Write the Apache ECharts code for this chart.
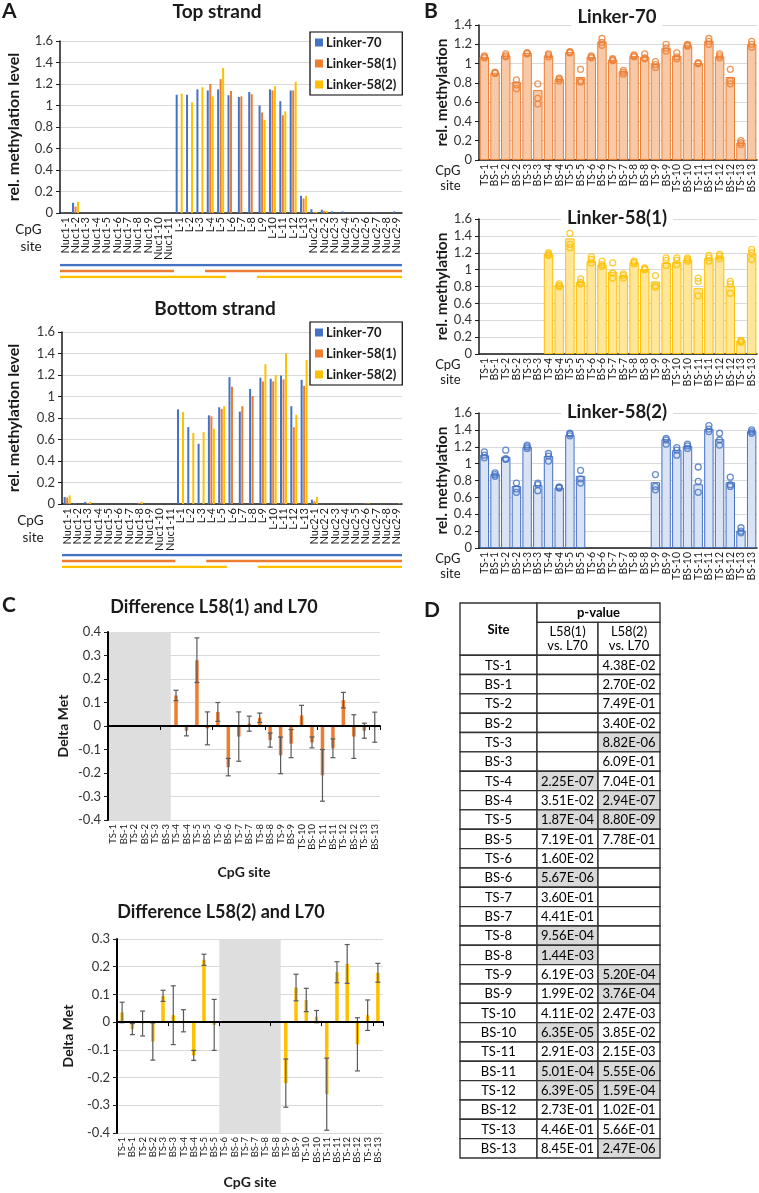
<!DOCTYPE html>
<html>
<head>
<meta charset="utf-8">
<script src="https://cdn.jsdelivr.net/npm/echarts@6/dist/echarts.min.js"></script>
<style>
  html, body { margin: 0; padding: 0; background: #fff; }
  #chart { width: 759px; height: 1193px; }
</style>
</head>
<body>
<div id="chart"></div>
<script>
// ---- data ----
const aSites = ['Nuc1-1', 'Nuc1-2', 'Nuc1-3', 'Nuc1-4', 'Nuc1-5', 'Nuc1-6', 'Nuc1-7', 'Nuc1-8', 'Nuc1-9', 'Nuc1-10', 'Nuc1-11',
  'L-1', 'L-2', 'L-3', 'L-4', 'L-5', 'L-6', 'L-7', 'L-8', 'L-9', 'L-10', 'L-11', 'L-12', 'L-13',
  'Nuc2-1', 'Nuc2-2', 'Nuc2-3', 'Nuc2-4', 'Nuc2-5', 'Nuc2-6', 'Nuc2-7', 'Nuc2-8', 'Nuc2-9']

const seriesNames = ['Linker-70', 'Linker-58(1)', 'Linker-58(2)']

// panel A, top strand
const topL70 = [0.01, 0.095, 0, 0, 0, 0, 0, 0, 0, 0, 0,
  1.10, 1.10, 1.15, 1.14, 1.15, 1.095, 1.08, 1.125, 1.00, 1.15, 1.04, 1.14, 0.16,
  0.035, 0.03, 0.015, 0.015, 0, 0, 0.01, 0, 0.015]
const topL58a = [0, 0.06, 0, 0, 0, 0, 0, 0, 0, 0, 0,
  null, null, null, 1.20, 1.245, 1.135, 1.085, 1.105, 0.935, 1.14, 0.91, 1.14, 0.135,
  0.01, 0.02, 0, 0, 0, 0, 0, 0, 0]
const topL58b = [0, 0.105, 0, 0, 0, 0, 0, 0, 0, 0, 0,
  1.11, 1.03, 1.17, 1.085, 1.35, null, null, null, 0.865, 1.18, 0.945, 1.22, 0.16,
  0.01, 0.02, 0, 0, 0, 0, 0, 0, 0]

// panel A, bottom strand
const botL70 = [0.065, 0.01, 0.02, 0, 0, 0, 0, 0.005, 0, 0, 0,
  0.88, 0.715, 0.56, 0.825, 0.90, 1.18, 0.86, 1.07, 1.175, 1.165, 1.195, 0.91, 1.155,
  0.04, 0, 0, 0, 0, 0.005, 0, 0, 0.005]
const botL58a = [0.06, 0, 0.01, 0, 0, 0, 0, 0.01, 0, 0, 0,
  null, null, null, 0.815, 0.885, 1.09, 0.91, 1.005, 1.14, 1.14, 1.16, 0.715, 1.10,
  0.025, 0, 0, 0, 0, 0.005, 0, 0, 0]
const botL58b = [0.08, 0, 0.02, 0, 0, 0, 0, 0.02, 0, 0, 0,
  0.855, 0.66, 0.67, 0.70, 0.91, null, null, null, 1.30, 1.20, 1.40, 0.83, 1.34,
  0.065, 0, 0, 0, 0, 0.005, 0, 0, 0.005]

// covered stretches of each construct (in category units)
const coverageL70 = [[0, 33]]
const coverageL58a = [[0, 11], [14, 33]]
const coverageL58b = [[0, 16], [19, 33]]

// panels B-D
const siteCats = ['TS-1', 'BS-1', 'TS-2', 'BS-2', 'TS-3', 'BS-3', 'TS-4', 'BS-4', 'TS-5', 'BS-5', 'TS-6', 'BS-6', 'TS-7',
  'BS-7', 'TS-8', 'BS-8', 'TS-9', 'BS-9', 'TS-10', 'BS-10', 'TS-11', 'BS-11', 'TS-12', 'BS-12', 'TS-13', 'BS-13']

const l70Mean = [1.07, 0.905, 1.085, 0.81, 1.11, 0.725, 1.085, 0.84, 1.12, 0.86, 1.07, 1.23, 1.04,
  0.92, 1.08, 1.07, 1.00, 1.16, 1.08, 1.19, 1.005, 1.235, 1.075, 0.86, 0.18, 1.20]
const l70Reps = [[1.06, 1.07, 1.08], [0.90, 0.90, 0.91], [1.07, 1.08, 1.10], [0.74, 0.78, 0.83], [1.10, 1.11, 1.11],
  [0.58, 0.64, 0.79], [1.07, 1.09, 1.10], [0.82, 0.84, 0.85], [1.11, 1.12, 1.12], [0.81, 0.82, 0.94],
  [1.06, 1.07, 1.08], [1.19, 1.22, 1.26], [1.03, 1.04, 1.05], [0.89, 0.91, 0.93], [1.07, 1.08, 1.09],
  [1.05, 1.06, 1.10], [0.96, 0.99, 1.02], [1.13, 1.16, 1.20], [1.05, 1.07, 1.11], [1.18, 1.19, 1.20],
  [1.00, 1.00, 1.01], [1.20, 1.23, 1.26], [1.06, 1.08, 1.10], [0.79, 0.82, 0.94], [0.16, 0.18, 0.20],
  [1.17, 1.20, 1.23]]

const l58aMean = [null, null, null, null, null, null, 1.19, 0.82, 1.37, 0.855, 1.105, 1.06, 0.975,
  0.93, 1.085, 1.005, 0.86, 1.08, 1.09, 1.12, 0.78, 1.14, 1.155, 0.81, 0.16, 1.19]
const l58aReps = [[], [], [], [], [], [],
  [1.17, 1.18, 1.20], [0.80, 0.81, 0.83], [1.26, 1.30, 1.43], [0.83, 0.85, 0.89],
  [1.08, 1.12, 1.15], [1.04, 1.06, 1.10], [0.90, 0.96, 1.08], [0.90, 0.93, 0.95], [1.07, 1.09, 1.10],
  [1.00, 1.01, 1.02], [0.79, 0.81, 0.93], [1.05, 1.11, 1.14], [1.06, 1.11, 1.14], [1.10, 1.12, 1.14],
  [0.69, 0.86, 0.90], [1.10, 1.14, 1.17], [1.13, 1.16, 1.18], [0.72, 0.83, 0.86], [0.14, 0.15, 0.16],
  [1.12, 1.20, 1.24]]

const l58bMean = [1.10, 0.875, 1.08, 0.735, 1.20, 0.745, 1.09, 0.715, 1.34, 0.855, null, null, null,
  null, null, null, 0.78, 1.29, 1.16, 1.21, 0.755, 1.41, 1.29, 0.78, 0.205, 1.385]
const l58bReps = [[1.07, 1.10, 1.14], [0.85, 0.87, 0.89], [1.05, 1.06, 1.16], [0.66, 0.70, 0.77], [1.18, 1.20, 1.22],
  [0.68, 0.75, 0.77], [1.03, 1.09, 1.12], [0.71, 0.72, 0.72], [1.33, 1.35, 1.36], [0.77, 0.82, 0.92],
  [], [], [], [], [], [],
  [0.69, 0.73, 0.87], [1.23, 1.28, 1.30], [1.10, 1.16, 1.19], [1.18, 1.21, 1.23],
  [0.66, 0.79, 0.96], [1.38, 1.41, 1.45], [1.22, 1.28, 1.36], [0.73, 0.75, 0.84], [0.18, 0.20, 0.24],
  [1.36, 1.38, 1.40]]

const delta58a = [null, null, null, null, null, null, 0.13, -0.02, 0.28, -0.01, 0.06, -0.175, -0.045,
  0.01, 0.035, -0.06, -0.125, -0.075, 0.045, -0.07, -0.21, -0.095, 0.11, -0.045, -0.02, -0.005]
const err58a = [null, null, null, null, null, null, 0.022, 0.022, 0.095, 0.07, 0.04, 0.037, 0.105,
  0.032, 0.02, 0.03, 0.078, 0.06, 0.043, 0.023, 0.11, 0.04, 0.033, 0.093, 0.032, 0.064]
const delta58b = [0.035, -0.025, -0.005, -0.07, 0.095, 0.025, 0.005, -0.12, 0.225, -0.01, null, null, null,
  null, null, null, -0.22, 0.125, 0.08, 0.02, -0.26, 0.18, 0.21, -0.08, 0.025, 0.178]
const err58b = [0.037, 0.02, 0.045, 0.067, 0.02, 0.106, 0.04, 0.018, 0.02, 0.092, null, null, null,
  null, null, null, 0.087, 0.048, 0.042, 0.022, 0.13, 0.038, 0.07, 0.096, 0.055, 0.034]
const missing58a = ['TS-1', 'BS-3']
const missing58b = ['TS-6', 'BS-8']

const pL58a = ['', '', '', '', '', '', '2.25E-07', '3.51E-02', '1.87E-04', '7.19E-01', '1.60E-02', '5.67E-06', '3.60E-01',
  '4.41E-01', '9.56E-04', '1.44E-03', '6.19E-03', '1.99E-02', '4.11E-02', '6.35E-05', '2.91E-03', '5.01E-04',
  '6.39E-05', '2.73E-01', '4.46E-01', '8.45E-01']
const pL58b = ['4.38E-02', '2.70E-02', '7.49E-01', '3.40E-02', '8.82E-06', '6.09E-01', '7.04E-01', '2.94E-07',
  '8.80E-09', '7.78E-01', '', '', '', '', '', '', '5.20E-04', '3.76E-04', '2.47E-03', '3.85E-02', '2.15E-03',
  '5.55E-06', '1.59E-04', '1.02E-01', '5.66E-01', '2.47E-06']
// Bonferroni-corrected cut-off used for the grey cells
const pCutoff = 0.05 / 26

// ---- styling ----
const FONT = 'Lato, "Noto Sans", sans-serif'
const INK = '#1a1a1a'
const GRID_LINE = '#d9d9d9'
const colors = ['#4472C4', '#ED7D31', '#FFC000']

const grids = [
  { left: 60, top: 41, width: 342, height: 172 },    // 0 A top strand
  { left: 60, top: 265, width: 342, height: 12 },    // 1 A top coverage
  { left: 62, top: 332, width: 340, height: 172 },   // 2 A bottom strand
  { left: 62, top: 555, width: 340, height: 12 },    // 3 A bottom coverage
  { left: 479, top: 25, width: 278, height: 135 },   // 4 B Linker-70
  { left: 479, top: 219, width: 278, height: 135 },  // 5 B Linker-58(1)
  { left: 479, top: 413, width: 278, height: 135 },  // 6 B Linker-58(2)
  { left: 108, top: 632, width: 272, height: 188 },  // 7 C L58(1)
  { left: 117, top: 939, width: 266, height: 194 },  // 8 C L58(2)
  { left: 460, top: 603, width: 200, height: 555 },  // 9 D table
]

function catAxis(gridIndex, data, labelSize, extra) {
  return Object.assign({
    type: 'category', gridIndex, data,
    axisLine: { lineStyle: { color: INK, width: 1.5 } },
    axisTick: { length: 4, lineStyle: { color: INK } },
    axisLabel: { interval: 0, rotate: 90, fontFamily: FONT, fontSize: labelSize, color: INK, margin: 4 },
    splitLine: { show: false },
  }, extra)
}

function valAxis(gridIndex, min, max, interval, name, nameGap, nameSize, labelSize, lineWidth) {
  return {
    type: 'value', gridIndex, min, max, interval,
    name, nameLocation: 'middle', nameGap,
    nameTextStyle: { fontFamily: FONT, fontWeight: 'bold', fontSize: nameSize, color: INK },
    axisLine: { show: true, onZero: false, lineStyle: { color: lineWidth ? '#000' : INK, width: lineWidth || 1.5 } },
    axisTick: { show: true, length: 4, lineStyle: { color: INK } },
    axisLabel: { fontFamily: FONT, fontSize: labelSize, color: '#333', margin: 7 },
    splitLine: { lineStyle: { color: GRID_LINE } },
  }
}

function cpgName(gap, pad, lineHeight, size) {
  return {
    name: 'CpG\nsite', nameLocation: 'start', nameGap: gap,
    nameTextStyle: {
      fontFamily: FONT, fontSize: size, color: INK, align: 'right', verticalAlign: 'top',
      lineHeight, padding: [pad, 0, 0, 0],
    },
  }
}

function hiddenAxis(gridIndex, min, max, inverse) {
  return { type: 'value', gridIndex, min, max, inverse: !!inverse, show: false }
}

function zeroAxis(gridIndex) {
  return {
    type: 'category', gridIndex, data: siteCats, position: 'bottom', z: 5,
    axisLine: { show: true, onZero: true, lineStyle: { color: '#000', width: 2 } },
    axisTick: { show: true, length: 4, lineStyle: { color: '#000' } },
    axisLabel: { show: false },
    splitLine: { show: false },
  }
}

const xAxes = [
  catAxis(0, aSites, 11, cpgName(8, 8, 17, 13.5)),
  hiddenAxis(1, 0, aSites.length),
  catAxis(2, aSites, 11, cpgName(8, 8, 17, 13.5)),
  hiddenAxis(3, 0, aSites.length),
  catAxis(4, siteCats, 10.5, cpgName(6, 3, 15, 13)),
  catAxis(5, siteCats, 10.5, cpgName(6, 3, 15, 13)),
  catAxis(6, siteCats, 10.5, cpgName(6, 3, 15, 13)),
  catAxis(7, siteCats, 9.5, {
    axisLine: { show: false, onZero: false }, axisTick: { show: false },
    name: 'CpG site', nameLocation: 'middle', nameGap: 45,
    nameTextStyle: { fontFamily: FONT, fontWeight: 'bold', fontSize: 14, color: INK },
  }),
  catAxis(8, siteCats, 9.5, {
    axisLine: { show: false, onZero: false }, axisTick: { show: false },
    name: 'CpG site', nameLocation: 'middle', nameGap: 42,
    nameTextStyle: { fontFamily: FONT, fontWeight: 'bold', fontSize: 14, color: INK },
  }),
  hiddenAxis(9, 0, 200),
  zeroAxis(7),
  zeroAxis(8),
]

const yAxes = [
  valAxis(0, 0, 1.6, 0.2, 'rel. methylation level', 38, 16, 13),
  hiddenAxis(1, 0, 2, true),
  valAxis(2, 0, 1.6, 0.2, 'rel. methylation level', 40, 16, 13),
  hiddenAxis(3, 0, 2, true),
  valAxis(4, 0, 1.4, 0.2, 'rel. methylation', 29, 15.5, 13),
  valAxis(5, 0, 1.6, 0.2, 'rel. methylation', 29, 15.5, 13),
  valAxis(6, 0, 1.6, 0.2, 'rel. methylation', 29, 15.5, 13),
  valAxis(7, -0.4, 0.4, 0.1, 'Delta Met', 38, 14, 13, 2),
  valAxis(8, -0.4, 0.3, 0.1, 'Delta Met', 42, 14, 13, 2),
  hiddenAxis(9, 0, 28.7, true),
]

// ---- series builders ----
function strandSeries(axisIndex, values) {
  return values.map((d, k) => ({
    name: seriesNames[k], type: 'bar', xAxisIndex: axisIndex, yAxisIndex: axisIndex,
    data: d, barWidth: 2, barGap: '25%', itemStyle: { color: colors[k] },
  }))
}

function coverageSeries(axisIndex) {
  const out = []
  const coverage = [coverageL70, coverageL58a, coverageL58b]
  coverage.forEach((segs, row) => {
    segs.forEach(seg => {
      out.push({
        type: 'line', xAxisIndex: axisIndex, yAxisIndex: axisIndex, silent: true,
        data: [[seg[0], row], [seg[1], row]], symbol: 'none',
        lineStyle: { color: colors[row], width: 2.5 },
      })
    })
  })
  return out
}

function replicateSeries(axisIndex, mean, reps, fill, line) {
  const pts = []
  reps.forEach((r, j) => r.forEach(v => pts.push([j, v])))
  return [
    {
      type: 'bar', xAxisIndex: axisIndex, yAxisIndex: axisIndex, data: mean, barCategoryGap: '12%',
      itemStyle: { color: fill, borderColor: line, borderWidth: 1 },
    },
    {
      type: 'scatter', xAxisIndex: axisIndex, yAxisIndex: axisIndex, data: pts, symbol: 'circle', symbolSize: 6,
      itemStyle: { color: 'rgba(0,0,0,0)', borderColor: line, borderWidth: 1.3 },
    },
  ]
}

function renderShade(params, api) {
  const cs = params.coordSys
  const bw = api.size([1, 0])[0]
  const x0 = Math.max(api.coord([api.value(0), 0])[0] - bw / 2, cs.x + 1)
  const x1 = api.coord([api.value(1), 0])[0] + bw / 2
  return {
    type: 'rect', shape: { x: x0, y: cs.y, width: x1 - x0, height: cs.height },
    style: { fill: '#dedede' },
  }
}

function renderErr(params, api) {
  const x = api.value(0)
  const lo = api.coord([x, api.value(1)])
  const hi = api.coord([x, api.value(2)])
  const cap = 2.5
  const style = { stroke: '#5a5a5a', lineWidth: 1.2 }
  return {
    type: 'group', children: [
      { type: 'line', shape: { x1: lo[0], y1: lo[1], x2: hi[0], y2: hi[1] }, style },
      { type: 'line', shape: { x1: lo[0] - cap, y1: lo[1], x2: lo[0] + cap, y2: lo[1] }, style },
      { type: 'line', shape: { x1: hi[0] - cap, y1: hi[1], x2: hi[0] + cap, y2: hi[1] }, style },
    ],
  }
}

function deltaSeries(axisIndex, delta, err, missing, color) {
  const errData = []
  delta.forEach((d, j) => {
    if (d != null) errData.push([j, d - err[j], d + err[j]])
  })
  return [
    {
      type: 'custom', xAxisIndex: axisIndex, yAxisIndex: axisIndex, z: 1, silent: true,
      data: [[siteCats.indexOf(missing[0]), siteCats.indexOf(missing[1]), 0]],
      encode: { x: [0, 1], y: 2 }, renderItem: renderShade,
    },
    {
      type: 'bar', xAxisIndex: axisIndex, yAxisIndex: axisIndex, data: delta, barWidth: 3.5, z: 2,
      itemStyle: { color },
    },
    {
      type: 'custom', xAxisIndex: axisIndex, yAxisIndex: axisIndex, z: 3, silent: true,
      data: errData, encode: { x: 0, y: [1, 2] }, renderItem: renderErr,
    },
  ]
}

// table cells in (column, row) units
const colX = [0, 77, 138, 200]
const headRows = 2.7
const cells = [
  { x0: colX[0], x1: colX[1], y0: 0, y1: headRows, text: 'Site', bold: true },
  { x0: colX[1], x1: colX[3], y0: 0, y1: 1, text: 'p-value', bold: true },
  { x0: colX[1], x1: colX[2], y0: 1, y1: headRows, text: 'L58(1)\nvs. L70' },
  { x0: colX[2], x1: colX[3], y0: 1, y1: headRows, text: 'L58(2)\nvs. L70' },
]
siteCats.forEach((site, i) => {
  const y0 = headRows + i
  cells.push({ x0: colX[0], x1: colX[1], y0, y1: y0 + 1, text: site })
  const cols = [pL58a, pL58b]
  cols.forEach((col, k) => {
    const t = col[i]
    cells.push({
      x0: colX[k + 1], x1: colX[k + 2], y0, y1: y0 + 1, text: t,
      fill: t && Number(t) < pCutoff ? '#d9d9d9' : '#fff',
    })
  })
})

function renderCell(params, api) {
  const c = cells[params.dataIndex]
  const p0 = api.coord([api.value(0), api.value(2)])
  const p1 = api.coord([api.value(1), api.value(3)])
  return {
    type: 'group', children: [
      {
        type: 'rect', shape: { x: p0[0], y: p0[1], width: p1[0] - p0[0], height: p1[1] - p0[1] },
        style: { fill: c.fill || '#fff', stroke: '#333', lineWidth: 1.4 },
      },
      {
        type: 'text', z2: 10,
        style: {
          x: (p0[0] + p1[0]) / 2, y: (p0[1] + p1[1]) / 2 + 0.5, text: c.text,
          align: 'center', verticalAlign: 'middle', fontFamily: FONT, fontSize: 13,
          fontWeight: c.bold ? 'bold' : 'normal', lineHeight: 14, fill: '#000',
        },
      },
    ],
  }
}

// ---- titles ----
function heading(text, x, y, size, extra) {
  return Object.assign({
    text, left: x, top: y, textAlign: 'center', textVerticalAlign: 'middle', padding: 0,
    textStyle: { fontFamily: FONT, fontWeight: 'bold', fontSize: size, color: INK },
  }, extra)
}
const whiteBox = { backgroundColor: '#fff', padding: [0, 6] }

const titles = [
  heading('A', 2, 11, 21, { textAlign: 'left' }),
  heading('B', 424, 11, 21, { textAlign: 'left' }),
  heading('C', 2, 605, 21, { textAlign: 'left' }),
  heading('D', 424, 610, 21, { textAlign: 'left' }),
  heading('Top strand', 217, 12, 19),
  heading('Bottom strand', 215, 309, 19),
  heading('Linker-70', 611, 17, 18.5, whiteBox),
  heading('Linker-58(1)', 611, 218, 18.5, whiteBox),
  heading('Linker-58(2)', 611, 412, 18.5, whiteBox),
  heading('Difference L58(1) and L70', 214, 607, 18),
  heading('Difference L58(2) and L70', 221, 912, 18),
]

function legendAt(top) {
  return {
    left: 310, top, orient: 'vertical', data: seriesNames, icon: 'rect', itemWidth: 8, itemHeight: 8,
    itemGap: 8, padding: [4, 6, 4, 5], borderColor: '#000', borderWidth: 1.2, backgroundColor: '#fff',
    selectedMode: false, textStyle: { fontFamily: FONT, fontWeight: 'bold', fontSize: 13, color: INK, padding: [0, 0, 0, -2] },
  }
}

const option = {
  animation: false,
  backgroundColor: '#fff',
  title: titles,
  legend: [legendAt(32), legendAt(322)],
  grid: grids,
  xAxis: xAxes,
  yAxis: yAxes,
  series: [
    ...strandSeries(0, [topL70, topL58a, topL58b]),
    ...coverageSeries(1),
    ...strandSeries(2, [botL70, botL58a, botL58b]),
    ...coverageSeries(3),
    ...replicateSeries(4, l70Mean, l70Reps, '#F8C9A7', '#ED7D31'),
    ...replicateSeries(5, l58aMean, l58aReps, '#FFE699', '#FFC000'),
    ...replicateSeries(6, l58bMean, l58bReps, '#DAE3F3', '#4472C4'),
    ...deltaSeries(7, delta58a, err58a, missing58a, '#ED7D31'),
    ...deltaSeries(8, delta58b, err58b, missing58b, '#FFC000'),
    {
      type: 'custom', xAxisIndex: 9, yAxisIndex: 9, silent: true,
      data: cells.map(c => [c.x0, c.x1, c.y0, c.y1]),
      encode: { x: [0, 1], y: [2, 3] }, renderItem: renderCell,
    },
  ],
}

const chart = echarts.init(document.getElementById('chart'), null, { renderer: 'canvas' })
chart.setOption(option)
</script>
</body>
</html>
